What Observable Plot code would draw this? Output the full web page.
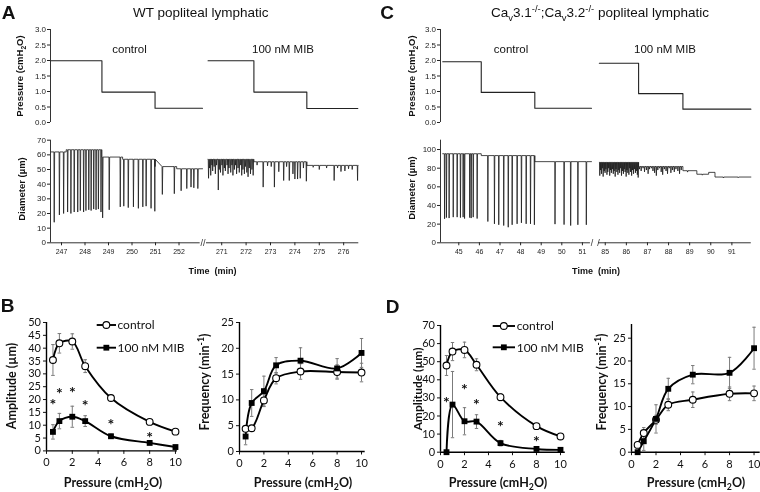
<!DOCTYPE html>
<html><head><meta charset="utf-8">
<script src="https://cdn.jsdelivr.net/npm/d3@7"></script>
<script src="https://cdn.jsdelivr.net/npm/@observablehq/plot@0.6"></script>
<style>
html,body{margin:0;padding:0;background:#fff;}
#root{position:relative;width:760px;height:492px;overflow:hidden;background:#fff;filter:grayscale(1);}
.lbl{position:absolute;white-space:nowrap;line-height:1;color:#111;}
.lbl sub,.lbl sup{font-size:70%;line-height:0;}
</style></head>
<body><div id="root"></div>
<script>
// ================= DATA =================
// Pressure step traces (time in min, pressure in cmH2O)
const presA_ctrl_t = [246.56, 248.72, 250.98, 253.0];
const presA_ctrl_p = [1.99, 0.98, 0.46];
const presA_mib_t  = [270.44, 272.32, 274.49, 276.58];
const presA_mib_p  = [1.99, 0.98, 0.45];
const presC_ctrl_t = [44.22, 46.09, 48.69, 51.44];
const presC_ctrl_p = [1.96, 0.97, 0.46];
const presC_mib_t  = [84.72, 86.58, 88.68, 91.9];
const presC_mib_p  = [1.91, 0.93, 0.43];

// Diameter traces: resting-diameter segments [tStart, tEnd, µm] and contractions [t, nadir µm]
const diamA_ctrl_base = [[246.56,247.2,62],[247.2,248.72,63.5],[248.72,249.6,58.5],[249.6,250.98,57],[250.98,251.9,52],[251.9,253.0,50.5]];
const diamA_ctrl_contr = [[246.69,14],[246.91,19],[247.09,20],[247.26,21],[247.40,20],[247.54,21],[247.69,21],[247.80,22],[247.94,21],[248.04,22],[248.16,22.5],[248.26,22],[248.37,23],[248.47,22.5],[248.57,23],[248.68,21],[248.75,17],
  [249.03,22.5],[249.50,24.5],[249.65,25],[249.84,24],[250.06,24.5],[250.27,23.5],[250.46,24.5],[250.60,25],[250.81,23.5],[250.97,21.5],
  [251.29,33],[251.80,33.5],[252.09,35.5],[252.33,37],[252.51,38],[252.63,37.5],[252.80,37]];
const diamA_mib_base = [[270.44,272.32,57],[272.32,274.49,55.3],[274.49,276.58,52.8]];
const diamA_mib_contr = [[270.46,44],[270.50,51],[270.55,46],[270.60,53],[270.63,49],[270.69,52],[270.74,47],[270.79,53],[270.86,36],[270.90,50],[270.95,48],[271.01,53],[271.05,46],[271.11,51],[271.15,49],[271.22,53],[271.26,47],[271.30,51],[271.37,48],[271.42,53],[271.46,46],[271.52,50],[271.57,53],[271.61,47],[271.67,51],[271.72,48],[271.78,53],[271.82,46],[271.87,50],[271.93,47],[271.97,52],[272.03,48],[272.08,45],[272.13,51],[272.18,47],[272.24,50],[272.29,46],
  [272.45,53],[272.70,38],[272.88,52.5],[273.03,52],[273.16,38],[273.34,48.5],[273.54,42.5],[273.66,52],[273.77,42.5],[273.92,47],[274.00,43.5],[274.11,43.5],[274.22,44],[274.35,51],[274.47,42],
  [274.75,51.5],[275.00,50],[275.30,51],[275.61,42.5],[275.75,51],[275.89,48.6],[276.05,49],[276.20,50.5],[276.35,50],[276.57,42.5]];
const diamC_ctrl_base = [[44.22,46.09,95.5],[46.09,48.69,93.5],[48.69,51.44,87]];
const diamC_ctrl_contr = [[44.31,25.7],[44.40,27],[44.53,26.5],[44.73,27.5],[44.92,27.5],[45.08,27],[45.21,27.5],[45.28,26],[45.53,27],[45.60,26.5],[45.70,27.5],[45.89,26],
  [46.41,22.8],[46.73,20.3],[46.94,19.3],[47.18,18.5],[47.40,16.7],[47.59,19.3],[47.83,20.3],[48.04,21.4],[48.27,20.3],[48.48,20.3],[48.67,19.3],
  [49.67,20],[50.11,19.5],[50.43,18.5],[50.78,19.3],[51.19,19.3]];
const diamC_mib_base = [[84.72,86.58,86.3],[86.58,88.68,81.8],[88.68,89.34,77.3],[89.34,89.9,73.5],[89.9,90.2,75.5],[90.2,91.9,70.5]];
const diamC_mib_contr = [[84.74,72],[84.78,78],[84.82,74],[84.86,80],[84.90,71],[84.95,77],[84.99,75],[85.03,79],[85.08,73],[85.12,76],[85.16,80],[85.21,72],[85.25,78],[85.29,75],[85.34,79],[85.38,74],[85.42,77],[85.47,71],[85.51,79],[85.55,76],[85.60,73],[85.64,78],[85.68,75],[85.73,80],[85.77,72],[85.81,77],[85.86,74],[85.90,79],[85.94,76],[85.99,71],[86.03,78],[86.07,75],[86.12,73],[86.16,80],[86.20,76],[86.25,72],[86.29,78],[86.34,74],[86.38,79],[86.43,75],[86.47,77],[86.52,73],[86.56,70],
  [86.62,79],[86.70,77],[86.79,80],[86.86,76],[86.95,78],[87.03,74],[87.10,79],[87.19,80],[87.26,77],[87.34,75],[87.42,72],[87.49,78],[87.57,80],[87.65,76],[87.72,73],[87.80,79],[87.88,77],[87.95,74],[88.03,80],[88.11,75],[88.19,78],[88.27,76],[88.35,79],[88.44,77],[88.52,74],[88.60,78],
  [88.9,75.8],[89.6,72.5],[90.6,69.5],[91.3,69.8]];

// Axis ticks
const pressureTicks = [0, 0.5, 1, 1.5, 2, 2.5, 3];
const diamTicksA = [0, 10, 20, 30, 40, 50, 60, 70];
const diamTicksC = [0, 20, 40, 60, 80, 100];
const timeTicksA_ctrl = [247, 248, 249, 250, 251, 252];
const timeTicksA_mib  = [271, 272, 273, 274, 275, 276];
const timeTicksC_ctrl = [45, 46, 47, 48, 49, 50, 51];
const timeTicksC_mib  = [85, 86, 87, 88, 89, 90, 91];
const pressureXTicks = [0, 2, 4, 6, 8, 10];
const ampTicksB = [0, 5, 10, 15, 20, 25, 30, 35, 40, 45, 50];
const freqTicksB = [0, 5, 10, 15, 20, 25];
const ampTicksD = [0, 10, 20, 30, 40, 50, 60, 70];
const freqTicksD = [0, 5, 10, 15, 20, 25];

// Summary data (pressure in cmH2O)
const pressures = [0.5, 1, 2, 3, 5, 8, 10];
const ampB_ctrl = [35.4, 41.9, 42.6, 33.0, 20.6, 11.3, 7.5];
const ampB_ctrl_err = [6.0, 3.8, 3.0, 2.5, 0.9, 0.8, 0.5];
const ampB_mib = [7.4, 11.6, 13.3, 11.6, 5.7, 3.1, 1.5];
const ampB_mib_err = [2.8, 3.0, 4.1, 2.1, 0.8, 0.6, 0.5];
const sigB_x = [0.5, 1, 2, 3, 5, 8];
const sigB_y = [19.5, 23.6, 24.3, 19.1, 11.7, 6.8];
const freqB_ctrl = [4.4, 4.5, 9.9, 14.2, 15.5, 15.4, 15.3];
const freqB_ctrl_err = [0.4, 0.4, 1.2, 1.1, 1.5, 1.4, 1.8];
const freqB_mib = [2.9, 9.4, 11.7, 16.7, 17.6, 16.1, 19.1];
const freqB_mib_err = [1.6, 2.6, 2.9, 1.5, 2.5, 1.9, 2.8];
const ampD_ctrl = [47.9, 55.6, 56.5, 48.3, 30.4, 14.4, 8.7];
const ampD_ctrl_err = [5.5, 5.0, 4.3, 3.3, 2.0, 1.0, 0.5];
const ampD_mib = [0, 26.3, 17.1, 16.9, 5.0, 1.8, 1.3];
const ampD_mib_err = [0.3, 18.3, 7.5, 3.8, 1.5, 0.8, 0.5];
const sigD_x = [0.5, 2, 3, 5, 8];
const sigD_y = [29.5, 36.8, 28.2, 16.0, 7.7];
const freqD_ctrl = [1.6, 4.2, 7.1, 10.4, 11.5, 12.8, 12.9];
const freqD_ctrl_err = [0.5, 1.2, 1.0, 1.3, 1.7, 1.5, 1.6];
const freqD_mib = [0, 2.4, 7.3, 13.9, 17.0, 17.4, 22.8];
const freqD_mib_err = [0.3, 2.0, 3.1, 2.3, 2.0, 3.4, 4.6];

const seriesNames = ["control", "100 nM MIB"];

// ================= LAYOUT =================
const root = document.getElementById("root");
const SANS = '"Liberation Sans", Arial, sans-serif';
const CAL = 'Lato, "Open Sans", sans-serif';
function put(el, left, top) {
  el.style.position = "absolute";
  el.style.left = left + "px";
  el.style.top = top + "px";
  el.style.overflow = "visible";
  el.style.background = "transparent";
  el.style.maxWidth = "none";
  root.appendChild(el);
}
function label(html, x, y, size, opt = {}) {
  const d = document.createElement("div");
  d.className = "lbl";
  d.innerHTML = html;
  Object.assign(d.style, {
    left: x + "px", top: y + "px", fontSize: size + "px",
    fontWeight: opt.bold ? "bold" : "normal", fontFamily: opt.font || SANS,
    transform: "translate(-50%,-50%)" + (opt.rot ? " rotate(-90deg)" : "")
  });
  root.appendChild(d);
}
const smallStyle = {fontFamily: SANS, fontSize: "8px", color: "#222", background: "transparent", overflow: "visible"};
const bigStyle = {fontFamily: CAL, fontSize: "11px", color: "#111", background: "transparent", overflow: "visible"};

function buildTrace(base, contr) {
  const lvl = t => (base.find(s => t >= s[0] && t <= s[1]) || base[base.length - 1])[2];
  const pts = [];
  base.forEach(s => pts.push({t: s[0], d: s[2]}, {t: s[1], d: s[2]}));
  contr.forEach(([t, n]) => { const b = lvl(t); pts.push({t: t - 0.012, d: b}, {t, d: n}, {t: t + 0.018, d: b}); });
  return pts.sort((a, b) => a.t - b.t);
}

// segments: pixel extents and time domains
const segs = {
  Actrl: {px0: 49.5, px1: 202, dom: [246.532, 253.02], axEnd: 252.9, yAxis: true, brk: "right2"},
  Amib:  {px0: 205.5, px1: 357.8, dom: [270.377, 276.62], axEnd: 276.62, yAxis: false},
  Cctrl: {px0: 440, px1: 591.4, dom: [44.112, 51.46], axEnd: 51.39, yAxis: true, brk: "right"},
  Cmib:  {px0: 598.3, px1: 751.1, dom: [84.68, 91.92], axEnd: 91.92, yAxis: false, brk: "left"}
};

function pressurePlot(seg, times, levels) {
  const ML = seg.yAxis ? 40 : 2, MR = 4;
  const pts = levels.flatMap((lv, i) => [{t: times[i], p: lv}, {t: times[i + 1], p: lv}]);
  const svg = Plot.plot({
    width: ML + (seg.px1 - seg.px0) + MR, height: 125,
    marginLeft: ML, marginRight: MR, marginTop: 29, marginBottom: 3,
    x: {domain: seg.dom, axis: null}, y: {domain: [0, 3], axis: null},
    style: smallStyle,
    marks: [
      seg.yAxis ? Plot.ruleX([seg.dom[0]], {y1: 0, y2: 3, stroke: "#333"}) : null,
      seg.yAxis ? Plot.axisY({ticks: pressureTicks, tickFormat: d3.format(".1f"), tickSize: 3, tickPadding: 1.5, label: null, fontSize: 8}) : null,
      Plot.line(pts, {x: "t", y: "p", stroke: "#222", strokeWidth: 1.1})
    ].filter(Boolean)
  });
  put(svg, seg.px0 - ML, 0);
}

function diameterPlot(seg, base, contr, yTicks, yMax, tTicks) {
  const ML = seg.yAxis ? 40 : 2, MR = 6;
  const pts = buildTrace(base, contr);
  const marks = [
    Plot.ruleY([0], {x1: seg.dom[0], x2: seg.axEnd, stroke: "#333"}),
    Plot.axisX({ticks: tTicks, tickSize: 3, tickPadding: 3, label: null, fontSize: 7, tickFormat: d => String(d)}),
    Plot.line(pts, {x: "t", y: "d", stroke: "#1a1a1a", strokeWidth: 0.8})
  ];
  if (seg.yAxis) {
    marks.push(Plot.ruleX([seg.dom[0]], {y1: 0, y2: yMax, stroke: "#333"}));
    marks.push(Plot.axisY({ticks: yTicks, tickSize: 3, tickPadding: 1.5, label: null, fontSize: 8}));
  }
  if (seg.brk === "right2") marks.push(Plot.text(["//"], {frameAnchor: "bottom-right", textAnchor: "middle", lineAnchor: "middle", fontSize: 9, fill: "#333"}));
  if (seg.brk === "right") marks.push(Plot.text(["/"], {frameAnchor: "bottom-right", textAnchor: "middle", lineAnchor: "middle", fontSize: 9, fill: "#333"}));
  if (seg.brk === "left") marks.push(Plot.text(["/"], {frameAnchor: "bottom-left", textAnchor: "middle", lineAnchor: "middle", fontSize: 9, fill: "#333"}));
  const svg = Plot.plot({
    width: ML + (seg.px1 - seg.px0) + MR, height: 130,
    marginLeft: ML, marginRight: MR, marginTop: 9.7, marginBottom: 17.7,
    x: {domain: seg.dom, axis: null}, y: {domain: [0, yMax], axis: null},
    style: smallStyle,
    marks
  });
  put(svg, seg.px0 - ML, 130);
}

pressurePlot(segs.Actrl, presA_ctrl_t, presA_ctrl_p);
pressurePlot(segs.Amib, presA_mib_t, presA_mib_p);
pressurePlot(segs.Cctrl, presC_ctrl_t, presC_ctrl_p);
pressurePlot(segs.Cmib, presC_mib_t, presC_mib_p);
diameterPlot(segs.Actrl, diamA_ctrl_base, diamA_ctrl_contr, diamTicksA, 70, timeTicksA_ctrl);
diameterPlot(segs.Amib, diamA_mib_base, diamA_mib_contr, diamTicksA, 70, timeTicksA_mib);
diameterPlot(segs.Cctrl, diamC_ctrl_base, diamC_ctrl_contr, diamTicksC, 110, timeTicksC_ctrl);
diameterPlot(segs.Cmib, diamC_mib_base, diamC_mib_contr, diamTicksC, 110, timeTicksC_mib);

function rows(v, e) { return pressures.map((p, i) => ({p, v: v[i], e: e[i]})); }
function errMarks(r) {
  return [
    Plot.ruleX(r, {x: "p", y1: d => d.v - d.e, y2: d => d.v + d.e, stroke: "#7a7a7a", strokeWidth: 1}),
    Plot.link(r, {x1: d => d.p - 0.14, x2: d => d.p + 0.14, y1: d => d.v + d.e, y2: d => d.v + d.e, stroke: "#7a7a7a", strokeWidth: 1}),
    Plot.link(r, {x1: d => d.p - 0.14, x2: d => d.p + 0.14, y1: d => d.v - d.e, y2: d => d.v - d.e, stroke: "#7a7a7a", strokeWidth: 1})
  ];
}
function curvePlot(c) {
  const ML = 46, MR = 8, MT = 12, MB = 42;
  const rc = rows(c.ctrl, c.ctrlErr), rm = rows(c.mib, c.mibErr);
  const stars = (c.sx || []).map((x, i) => ({x, y: c.sy[i]}));
  const svg = Plot.plot({
    width: ML + (c.x1 - c.x0) + MR, height: MT + (c.y0 - c.y1) + MB,
    marginLeft: ML, marginRight: MR, marginTop: MT, marginBottom: MB,
    x: {domain: c.xDom, axis: null}, y: {domain: c.yDom, axis: null},
    style: bigStyle,
    marks: [
      Plot.axisY({ticks: c.yTicks, tickSize: 3, tickPadding: 2.5, label: null}),
      Plot.axisX({ticks: pressureXTicks, tickSize: 3.5, tickPadding: 4, label: null}),
      ...errMarks(rc), ...errMarks(rm),
      Plot.ruleX([0], {y1: 0, y2: c.yDom[1], stroke: "#000", strokeWidth: 1.4}),
      Plot.ruleY([0], {x1: 0, x2: c.xDom[1], stroke: "#000", strokeWidth: 1.4}),
      Plot.line(rc, {x: "p", y: "v", curve: "catmull-rom", stroke: "#000", strokeWidth: 1.9}),
      Plot.line(rm, {x: "p", y: "v", curve: "catmull-rom", stroke: "#000", strokeWidth: 1.9}),
      Plot.dot(rc, {x: "p", y: "v", r: 3.4, fill: "white", stroke: "#000", strokeWidth: 1.1}),
      Plot.dot(rm, {x: "p", y: "v", r: 3.3, symbol: "square", fill: "#000"}),
      Plot.text(stars, {x: "x", y: "y", text: () => "*", fontSize: 16, fontWeight: "bold", dy: 4, fill: "#111"})
    ]
  });
  put(svg, c.x0 - ML, c.y1 - MT);
}
curvePlot({x0: 46, x1: 176.9, y0: 450.7, y1: 322.3, xDom: [0, 10.15], yDom: [0, 50], yTicks: ampTicksB,
  ctrl: ampB_ctrl, ctrlErr: ampB_ctrl_err, mib: ampB_mib, mibErr: ampB_mib_err, sx: sigB_x, sy: sigB_y});
curvePlot({x0: 238.5, x1: 364.2, y0: 451, y1: 322, xDom: [0, 10.3], yDom: [0, 25], yTicks: freqTicksB,
  ctrl: freqB_ctrl, ctrlErr: freqB_ctrl_err, mib: freqB_mib, mibErr: freqB_mib_err});
curvePlot({x0: 440, x1: 564.8, y0: 451.7, y1: 325, xDom: [0, 10.4], yDom: [0, 70], yTicks: ampTicksD,
  ctrl: ampD_ctrl, ctrlErr: ampD_ctrl_err, mib: ampD_mib, mibErr: ampD_mib_err, sx: sigD_x, sy: sigD_y});
curvePlot({x0: 630.7, x1: 759.4, y0: 451.7, y1: 324, xDom: [0, 10.5], yDom: [0, 28], yTicks: freqTicksD,
  ctrl: freqD_ctrl, ctrlErr: freqD_ctrl_err, mib: freqD_mib, mibErr: freqD_mib_err});

// Legends (drawn with d3)
function legend(xLine0, xLine1, xText, yRows) {
  const svg = d3.create("svg").attr("width", 760).attr("height", 492)
    .style("position", "absolute").style("left", "0px").style("top", "0px").style("overflow", "visible");
  seriesNames.forEach((name, i) => {
    const y = yRows[i], xm = (xLine0 + xLine1) / 2;
    svg.append("line").attr("x1", xLine0).attr("x2", xLine1).attr("y1", y).attr("y2", y).attr("stroke", "#000").attr("stroke-width", 1.9);
    if (i === 0) svg.append("circle").attr("cx", xm).attr("cy", y).attr("r", 3.4).attr("fill", "#fff").attr("stroke", "#000").attr("stroke-width", 1.1);
    else svg.append("rect").attr("x", xm - 2.9).attr("y", y - 2.9).attr("width", 5.8).attr("height", 5.8).attr("fill", "#000");
    svg.append("text").attr("x", xText).attr("y", y).attr("dy", "0.35em").attr("font-family", CAL).attr("font-size", 12).attr("fill", "#111").text(name);
  });
  root.appendChild(svg.node());
}
legend(96.7, 116, 117.5, [325, 347.7]);
legend(492.7, 515, 516.7, [326, 347.3]);

// Text labels
label("A", 8.5, 12, 19, {bold: true});
label("C", 387, 12, 19, {bold: true});
label("B", 7.5, 305, 19, {bold: true});
label("D", 392.5, 305.5, 19, {bold: true});
label("WT popliteal lymphatic", 200.7, 12.5, 13.5);
label("Ca<sub>v</sub>3.1<sup>-/-</sup>;Ca<sub>v</sub>3.2<sup>-/-</sup> popliteal lymphatic", 600, 12.5, 13.5);
label(seriesNames[0], 129.5, 50, 11.5);
label(seriesNames[1], 283, 50, 11.5);
label(seriesNames[0], 511, 50, 11.5);
label(seriesNames[1], 665, 50, 11.5);
label("Pressure (cmH<sub>2</sub>O)", 19.5, 76, 9.5, {bold: true, rot: true});
label("Diameter (µm)", 21.5, 189, 9.5, {bold: true, rot: true});
label("Pressure (cmH<sub>2</sub>O)", 411.5, 76, 9.5, {bold: true, rot: true});
label("Diameter (µm)", 412, 188, 9.5, {bold: true, rot: true});
label("Time&nbsp;&nbsp;(min)", 212.5, 270.7, 9, {bold: true});
label("Time&nbsp;&nbsp;(min)", 596, 271, 9, {bold: true});
label("Amplitude (µm)", 12, 386, 12.5, {bold: true, rot: true, font: CAL});
label("Frequency (min<sup>-1</sup>)", 205, 382, 12.5, {bold: true, rot: true, font: CAL});
label("Amplitude (µm)", 417.5, 389, 12, {bold: true, rot: true, font: CAL});
label("Frequency (min<sup>-1</sup>)", 601.5, 382, 12.5, {bold: true, rot: true, font: CAL});
label("Pressure (cmH<sub>2</sub>O)", 113, 483, 12.5, {bold: true, font: CAL});
label("Pressure (cmH<sub>2</sub>O)", 303, 483, 12.5, {bold: true, font: CAL});
label("Pressure (cmH<sub>2</sub>O)", 498, 483, 12.5, {bold: true, font: CAL});
label("Pressure (cmH<sub>2</sub>O)", 696, 483, 12.5, {bold: true, font: CAL});
</script>
</body></html>
